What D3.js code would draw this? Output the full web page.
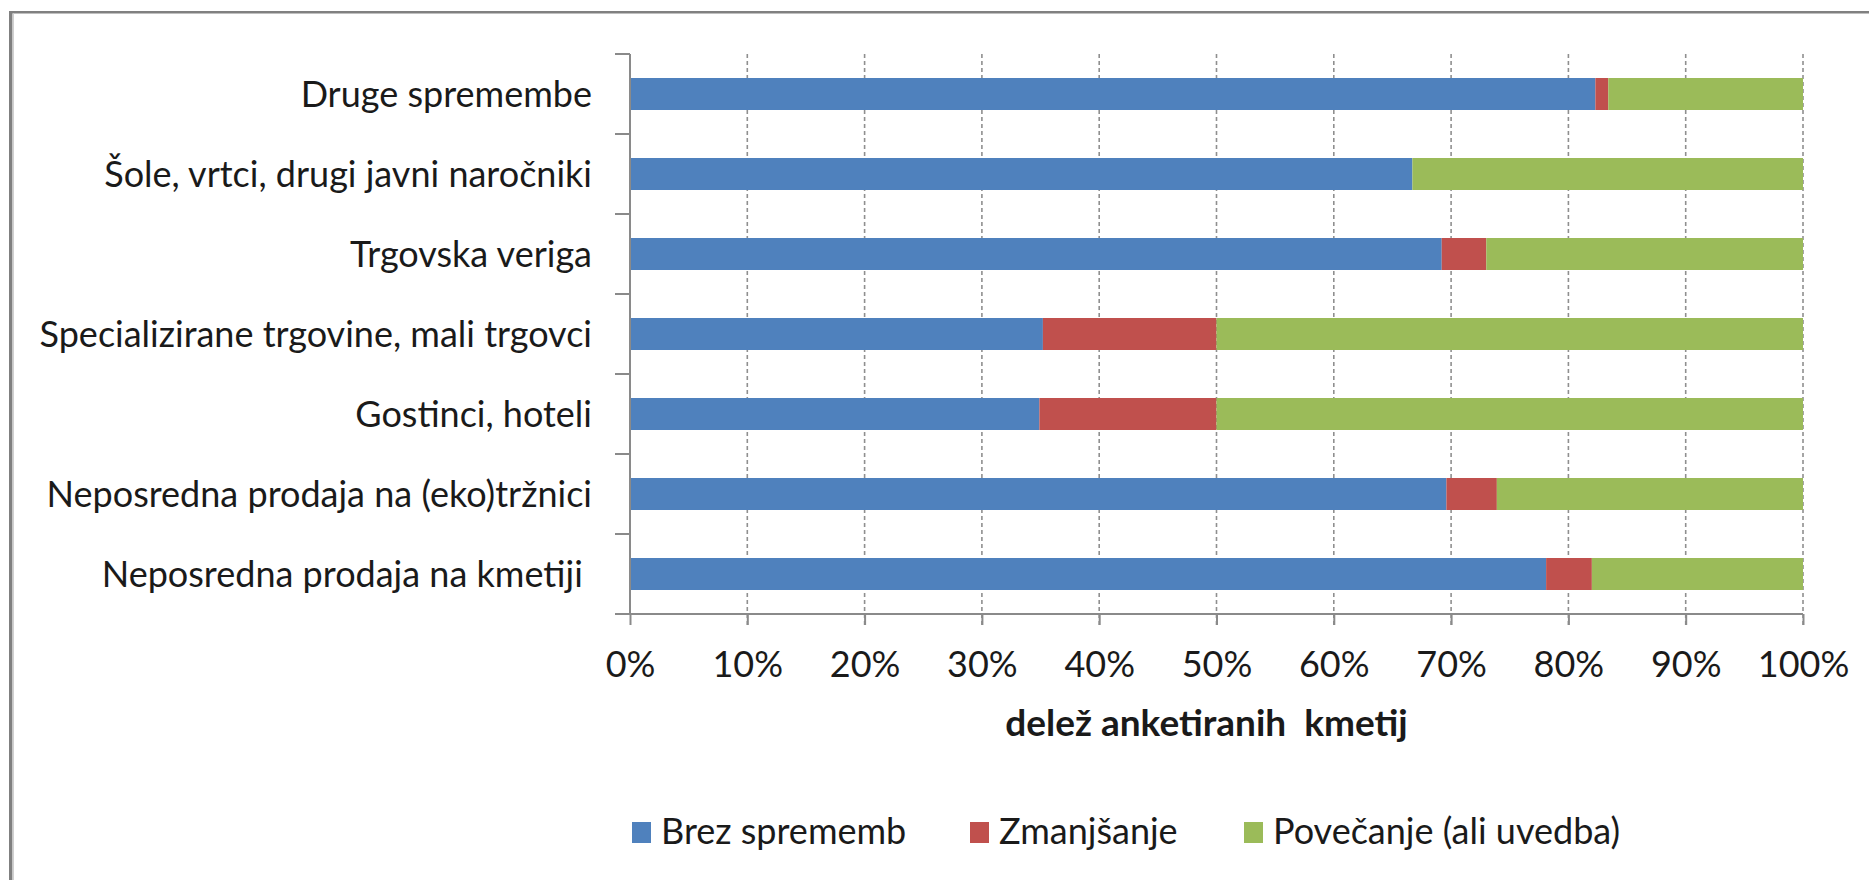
<!DOCTYPE html>
<meta charset="utf-8">

<!-- Load d3.js -->
<script src="https://d3js.org/d3.v7.min.js"></script>

<style type="text/css">
  body { margin: 0; background: #fff; }
  text { font-family: Lato, "Open Sans", sans-serif; fill: #1a1a1a; }
</style>

<!-- Create a div where the graph will take place -->
<div id="my_dataviz"></div>

<script>
// categories, top to bottom as in the chart
let categories = [
  "Druge spremembe",
  "Šole, vrtci, drugi javni naročniki",
  "Trgovska veriga",
  "Specializirane trgovine, mali trgovci",
  "Gostinci, hoteli",
  "Neposredna prodaja na (eko)tržnici",
  "Neposredna prodaja na kmetiji "
];

// shares in %
let brezSprememb = [82.3, 66.7, 69.2, 35.2, 34.9, 69.6, 78.1];
let zmanjsanje   = [ 1.1,  0.0,  3.8, 14.8, 15.1,  4.3,  3.9];
let povecanje    = [16.6, 33.3, 27.0, 50.0, 50.0, 26.1, 18.0];

let seriesNames = ["Brez sprememb", "Zmanjšanje", "Povečanje (ali uvedba)"];
let seriesColors = ["#4f81bd", "#c0504d", "#9bbb59"];

let xTicks = [0, 10, 20, 30, 40, 50, 60, 70, 80, 90, 100];
let xTitle = "delež anketiranih  kmetij";

// set the dimensions and margins of the graph
let W = 1869, H = 880;
let margin = {top: 54, left: 630},
    width = 1173,
    height = 560;

let svg = d3.select("#my_dataviz")
  .append("svg")
  .attr("width", W)
  .attr("height", H);

// chart frame (left and top edge only are visible)
svg.append("rect").attr("x", 9).attr("y", 11).attr("width", W).attr("height", 2.5).attr("fill", "#808080");
svg.append("rect").attr("x", 9).attr("y", 11).attr("width", 3.5).attr("height", H).attr("fill", "#808080");
svg.append("rect").attr("x", 12.5).attr("y", 13.5).attr("width", 1.5).attr("height", H).attr("fill", "#d0d0d0");

let g = svg.append("g")
  .attr("transform", "translate(" + margin.left + "," + margin.top + ")");

// table for the stack
let rows = categories.map(function(c, i) {
  return {cat: c, s0: brezSprememb[i], s1: zmanjsanje[i], s2: povecanje[i]};
});
let keys = ["s0", "s1", "s2"];
let stacked = d3.stack().keys(keys)(rows);

// X scale
let x = d3.scaleLinear()
  .domain([0, 100])
  .range([0, width]);

// Y scale
let y = d3.scaleBand()
  .domain(categories)
  .range([0, height])
  .paddingInner(0.6)
  .paddingOuter(0.3);

// vertical dashed gridlines
g.append("g")
  .attr("class", "grid")
  .selectAll("line")
  .data(xTicks.filter(function(d) { return d > 0; }))
  .join("line")
  .attr("x1", function(d) { return x(d); })
  .attr("x2", function(d) { return x(d); })
  .attr("y1", 0)
  .attr("y2", height + 11)
  .attr("stroke", "#8f8f8f")
  .attr("stroke-width", 1.6)
  .attr("stroke-dasharray", "4,3");

// bars
g.append("g")
  .selectAll("g")
  .data(stacked)
  .join("g")
  .attr("fill", function(d, i) { return seriesColors[i]; })
  .selectAll("rect")
  .data(function(d) { return d; })
  .join("rect")
  .attr("x", function(d) { return x(d[0]); })
  .attr("width", function(d) { return x(d[1]) - x(d[0]); })
  .attr("y", function(d) { return y(d.data.cat); })
  .attr("height", y.bandwidth());

// X axis
let xAxis = g.append("g")
  .attr("transform", "translate(0," + height + ")")
  .call(d3.axisBottom(x)
    .tickValues(xTicks)
    .tickSize(11)
    .tickPadding(26)
    .tickFormat(function(d) { return d + "%"; }));
xAxis.select(".domain").remove();
xAxis.append("line")
  .attr("x1", -15).attr("x2", width)
  .attr("stroke", "#8a8a8a").attr("stroke-width", 2);
xAxis.selectAll(".tick line").attr("stroke", "#8a8a8a").attr("stroke-width", 2);
xAxis.selectAll(".tick text")
  .attr("fill", "#1a1a1a")
  .style("font-family", "Lato, sans-serif")
  .style("font-size", "36px");

// Y axis, ticks between categories
let step = y.step();
let bounds = categories.map(function(c) { return y(c) - step * y.paddingInner() / 2; });
bounds.push(bounds[bounds.length - 1] + step);
let yAxis = g.append("g");
yAxis.append("line")
  .attr("x1", 0).attr("x2", 0).attr("y1", 0).attr("y2", height)
  .attr("stroke", "#8a8a8a").attr("stroke-width", 2);
yAxis.selectAll(".btick")
  .data(bounds)
  .join("line")
  .attr("class", "btick")
  .attr("x1", -15).attr("x2", 0)
  .attr("y1", function(d) { return d; })
  .attr("y2", function(d) { return d; })
  .attr("stroke", "#8a8a8a").attr("stroke-width", 2);
yAxis.selectAll(".lab")
  .data(categories)
  .join("text")
  .attr("class", "lab")
  .attr("x", -38)
  .attr("y", function(d) { return y(d) + y.bandwidth() / 2; })
  .attr("dy", "0.36em")
  .attr("text-anchor", "end")
  .style("white-space", "pre")
  .style("font-size", "36px")
  .text(function(d) { return d; });

// x axis title
g.append("text")
  .attr("x", width / 2 - 10)
  .attr("y", height + 122)
  .attr("text-anchor", "middle")
  .style("white-space", "pre")
  .style("font-size", "37px")
  .style("font-weight", "bold")
  .text(xTitle);

// legend
let legendX = [632, 970, 1244];
let legend = svg.append("g")
  .selectAll("g")
  .data(seriesNames)
  .join("g")
  .attr("transform", function(d, i) { return "translate(" + legendX[i] + ",822)"; });
legend.append("rect")
  .attr("width", 19).attr("height", 21)
  .attr("fill", function(d, i) { return seriesColors[i]; });
legend.append("text")
  .attr("x", 29)
  .attr("y", 22)
  .style("font-size", "36px")
  .text(function(d) { return d; });
</script>
